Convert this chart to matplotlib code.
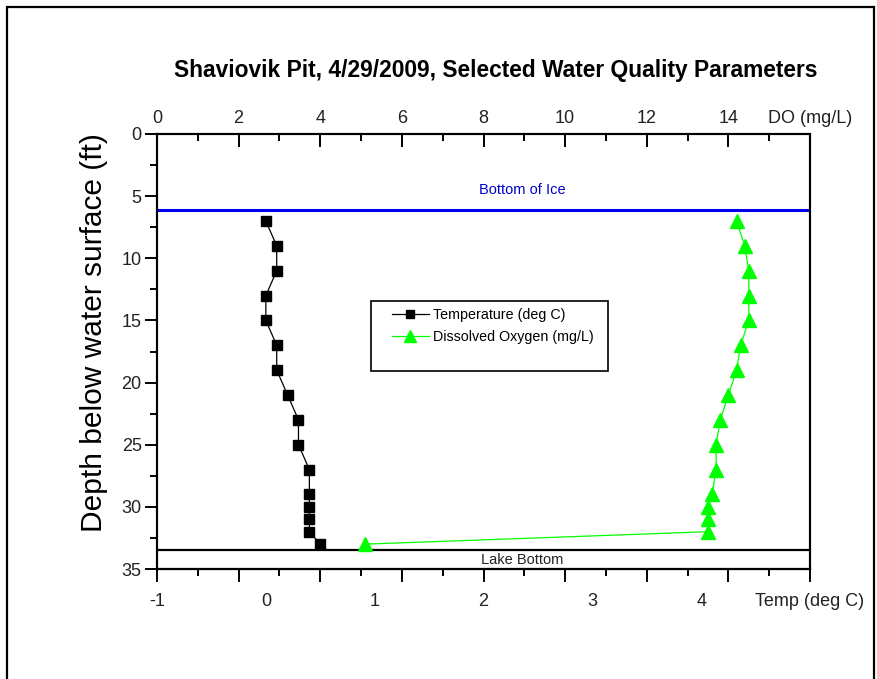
import numpy as np
import matplotlib
matplotlib.use('Agg')
import matplotlib.pyplot as plt
from matplotlib.lines import Line2D
from matplotlib.patches import Rectangle

plt.rcParams['font.family'] = ['Liberation Sans', 'DejaVu Sans']

# Data
depth = [7, 9, 11, 13, 15, 17, 19, 21, 23, 25, 27, 29, 30, 31, 32, 33]
temp = [0.0, 0.1, 0.1, 0.0, 0.0, 0.1, 0.1, 0.2, 0.3, 0.3, 0.4, 0.4, 0.4, 0.4, 0.4, 0.5]
do = [14.2, 14.4, 14.5, 14.5, 14.5, 14.3, 14.2, 14.0, 13.8, 13.7, 13.7, 13.6, 13.5, 13.5, 13.5, 5.1]

ice_bottom = 6.1
lake_bottom = 33.5

temp_ticks = [-1, 0, 1, 2, 3, 4, 5]
temp_labels = ['-1', '0', '1', '2', '3', '4', 'Temp (deg C)']
do_ticks = [0, 2, 4, 6, 8, 10, 12, 14, 16]
do_labels = ['0', '2', '4', '6', '8', '10', '12', '14', 'DO (mg/L)']
depth_ticks = [0, 5, 10, 15, 20, 25, 30, 35]

W, H = 877, 679
fig = plt.figure(figsize=(W / 100, H / 100), dpi=100)

# outer frame
fig.patches.append(Rectangle((7 / W, -0.05), 867 / W, 1.05 - 7 / H, transform=fig.transFigure,
                             fill=False, edgecolor='black', linewidth=1.6))

L, R, T, B = 157, 810, 134, 569
ax = fig.add_axes([L / W, 1 - B / H, (R - L) / W, (B - T) / H])

tick_col = '#222222'
for s in ax.spines.values():
    s.set_linewidth(1.5)

# temperature on the main axes
ax.plot(temp, depth, color='black', linewidth=0.9, marker='s', markersize=6.5,
        markerfacecolor='black', markeredgecolor='black', zorder=3)
ax.axhline(ice_bottom, color='#0000ee', linewidth=2.2)
ax.axhline(lake_bottom, color='black', linewidth=1.6)
ax.set_xlim(-1, 5)
ax.set_ylim(35, 0)

ax.set_xticks(temp_ticks)
ax.set_xticklabels(temp_labels)
ax.tick_params(axis='x', which='both', length=0, pad=17, labelsize=13, labelcolor=tick_col)
ax.set_yticks(depth_ticks)
ax.set_yticks(np.arange(2.5, 35, 5), minor=True)
ax.tick_params(axis='y', which='major', direction='out', length=9, width=1.4,
               labelsize=13, labelcolor=tick_col, pad=2)
ax.tick_params(axis='y', which='minor', direction='out', length=5, width=1.4)
ax.tick_params(axis='y', right=False)

ax.text(0.56, ice_bottom - 1.0, 'Bottom of Ice', transform=ax.get_yaxis_transform(),
        ha='center', va='bottom', fontsize=10.5, color='#0000cc')
ax.text(0.56, lake_bottom + 0.25, 'Lake Bottom', transform=ax.get_yaxis_transform(),
        ha='center', va='top', fontsize=10.5, color='#222222')

# bottom tick marks follow the DO scale (no labels)
sec = ax.secondary_xaxis('bottom', functions=(lambda t: (t + 1) * 16 / 6,
                                              lambda d: d * 6 / 16 - 1))
sec.set_xticks(do_ticks)
sec.set_xticks(np.arange(1, 16, 2), minor=True)
sec.tick_params(which='major', direction='out', length=9, width=1.4, labelbottom=False)
sec.tick_params(which='minor', direction='out', length=5, width=1.4)
sec.spines['bottom'].set_linewidth(1.5)

# dissolved oxygen on the top axis
ax2 = ax.twiny()
ax2.plot(do, depth, color='#00ff00', linewidth=0.9, marker='^', markersize=9.5,
         markerfacecolor='#00ff00', markeredgecolor='#00ff00', zorder=3)
ax2.set_xlim(0, 16)
ax2.set_xticks(do_ticks)
ax2.set_xticklabels(do_labels)
ax2.set_xticks(np.arange(1, 16, 2), minor=True)
ax2.tick_params(axis='x', which='major', direction='in', length=9, width=1.4,
                labelsize=13, labelcolor=tick_col, pad=5)
ax2.tick_params(axis='x', which='minor', direction='in', length=5, width=1.4)
for s in ax2.spines.values():
    s.set_linewidth(1.5)

# legend box
fig.patches.append(Rectangle((371 / W, 1 - 371 / H), 237 / W, 70 / H, transform=fig.transFigure,
                             fill=False, edgecolor='black', linewidth=1.2))
handles = [Line2D([], [], color='black', linewidth=0.9, marker='s', markersize=6),
           Line2D([], [], color='#00ff00', linewidth=0.9, marker='^', markersize=9)]
fig.legend(handles, ['Temperature (deg C)', 'Dissolved Oxygen (mg/L)'],
           loc='upper left', bbox_to_anchor=(389 / W, 1 - 305 / H), frameon=False,
           fontsize=10.3, handlelength=2.6, handletextpad=0.3, labelspacing=0.6,
           borderpad=0.2, borderaxespad=0)

fig.text(496 / W, 1 - 70 / H, 'Shaviovik Pit, 4/29/2009, Selected Water Quality Parameters',
         ha='center', va='center', fontsize=16.4, fontweight='bold')
fig.text(94 / W, 1 - 333 / H, 'Depth below water surface (ft)', rotation=90,
         ha='center', va='center', fontsize=21.5)

fig.savefig('out.png', dpi=100)
